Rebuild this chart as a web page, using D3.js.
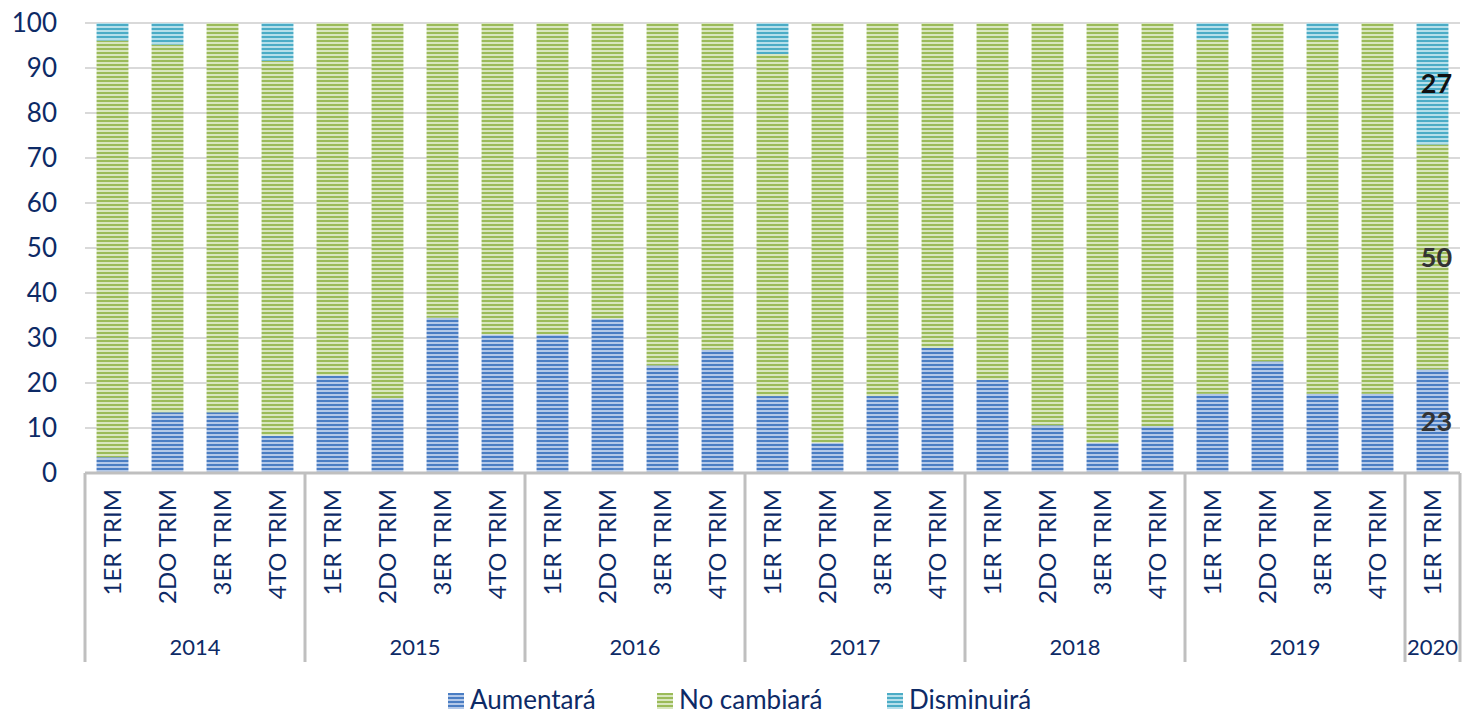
<!DOCTYPE html>
<html>
<head>
<meta charset="utf-8">
<script src="https://cdn.jsdelivr.net/npm/d3@7"></script>
<style>
  body { margin: 0; background: #fff; }
  text { font-family: Lato, "Open Sans", sans-serif; }
</style>
</head>
<body>
<svg id="chart" width="1466" height="716"></svg>
<script>
// data (percent of answers)
const years = ["2014", "2015", "2016", "2017", "2018", "2019", "2020"];
const quartersPerYear = [4, 4, 4, 4, 4, 4, 1];
const quarterNames = ["1ER TRIM", "2DO TRIM", "3ER TRIM", "4TO TRIM"];
const seriesNames = ["Aumentará", "No cambiará", "Disminuirá"];

const aumentara = [3.5, 13.5, 13.5, 8.3, 21.7, 16.6, 34.5, 30.8, 30.8, 34.3, 23.9, 27.4,
  17.1, 6.7, 17.1, 27.8, 20.7, 10.6, 6.7, 10.4, 17.6, 24.8, 17.6, 17.6, 23];
const noCambiara = [92.6, 81.7, 86.5, 83.3, 78.3, 83.4, 65.5, 69.2, 69.2, 65.7, 76.1, 72.6,
  76.0, 93.3, 82.9, 72.2, 79.3, 89.4, 93.3, 89.6, 78.7, 75.2, 78.7, 82.4, 50];
const disminuira = [3.9, 4.8, 0, 8.4, 0, 0, 0, 0, 0, 0, 0, 0,
  6.9, 0, 0, 0, 0, 0, 0, 0, 3.7, 0, 3.7, 0, 27];
const yTicks = [0, 10, 20, 30, 40, 50, 60, 70, 80, 90, 100];

const width = 1466;
const margin = { top: 23, left: 85, bottom: 243, right: 6 };
const iwidth = width - margin.left - margin.right;
const plotBottom = 473;

const svg = d3.select("#chart");

// striped fills like the Excel pattern
const stripes = [
  { id: "p0", dark: "#4a7dc3", light: "#b3c8e8" },
  { id: "p1", dark: "#9bbb59", light: "#d8e6bf" },
  { id: "p2", dark: "#4bacc6", light: "#b5dfea" }
];
const defs = svg.append("defs");
stripes.forEach(s => {
  const p = defs.append("pattern")
    .attr("id", s.id)
    .attr("patternUnits", "userSpaceOnUse")
    .attr("width", 8).attr("height", 4);
  p.append("rect").attr("width", 8).attr("height", 4).attr("fill", s.light);
  p.append("rect").attr("width", 8).attr("height", 2).attr("fill", s.dark);
});

// one row per bar
const rows = [];
let k = 0;
years.forEach((yr, yi) => {
  for (let q = 0; q < quartersPerYear[yi]; q++) {
    rows.push({
      key: yr + "-" + q, year: yr, quarter: quarterNames[q],
      "Aumentará": aumentara[k], "No cambiará": noCambiara[k], "Disminuirá": disminuira[k]
    });
    k++;
  }
});

const x = d3.scaleBand()
  .domain(rows.map(d => d.key))
  .range([margin.left, margin.left + iwidth])
  .paddingInner(0.42).paddingOuter(0.21);

const y = d3.scaleLinear().domain([0, 100]).range([plotBottom, margin.top]);

// gridlines
svg.append("g").selectAll("line").data(yTicks.filter(t => t > 0)).join("line")
  .attr("x1", margin.left).attr("x2", margin.left + iwidth)
  .attr("y1", d => y(d)).attr("y2", d => y(d))
  .attr("stroke", "#d9d9d9").attr("stroke-width", 2);

// y labels
svg.append("g").selectAll("text").data(yTicks).join("text")
  .attr("x", 57).attr("y", d => y(d)).attr("dy", "0.36em")
  .attr("text-anchor", "end")
  .attr("fill", "#0d2a66").attr("font-size", 26)
  .text(d => d);

// stacked bars
const stack = d3.stack().keys(seriesNames)(rows);
svg.append("g").selectAll("g").data(stack).join("g")
  .attr("fill", (d, i) => `url(#p${i})`)
  .selectAll("rect").data(d => d).join("rect")
  .attr("x", d => x(d.data.key))
  .attr("width", x.bandwidth())
  .attr("y", d => y(d[1]))
  .attr("height", d => y(d[0]) - y(d[1]));

// value labels on the last bar
const last = rows[rows.length - 1];
const lastStack = stack.map((s, i) => ({ v: s[s.length - 1], i }));
svg.append("g").selectAll("text").data(lastStack).join("text")
  .attr("x", x(last.key) + x.bandwidth() / 2 + 4)
  .attr("y", d => y((d.v[0] + d.v[1]) / 2))
  .attr("dy", "0.36em")
  .attr("text-anchor", "middle")
  .attr("font-size", 27).attr("font-weight", "bold")
  .attr("fill", d => d.i === 2 ? "#111" : "#333")
  .text(d => Math.round(d.v[1] - d.v[0]));

// category axis: baseline, separators, labels
const axisG = svg.append("g");
axisG.append("line")
  .attr("x1", margin.left).attr("x2", margin.left + iwidth)
  .attr("y1", plotBottom).attr("y2", plotBottom)
  .attr("stroke", "#bfbfbf").attr("stroke-width", 3);

const step = x.step();
let start = 0;
const bounds = [0];
quartersPerYear.forEach(n => { start += n; bounds.push(start); });
axisG.selectAll("line.sep").data(bounds).join("line")
  .attr("class", "sep")
  .attr("x1", d => margin.left + d * step).attr("x2", d => margin.left + d * step)
  .attr("y1", plotBottom).attr("y2", 662)
  .attr("stroke", "#bfbfbf").attr("stroke-width", 3);

axisG.selectAll("text.q").data(rows).join("text")
  .attr("class", "q")
  .attr("transform", d => `translate(${x(d.key) + x.bandwidth() / 2},489) rotate(-90)`)
  .attr("dy", "0.36em")
  .attr("text-anchor", "end")
  .attr("fill", "#0d2a66").attr("font-size", 24)
  .text(d => d.quarter);

axisG.selectAll("text.yr").data(years).join("text")
  .attr("class", "yr")
  .attr("x", (d, i) => margin.left + (bounds[i] + bounds[i + 1]) / 2 * step)
  .attr("y", 655)
  .attr("text-anchor", "middle")
  .attr("fill", "#0d2a66").attr("font-size", 22)
  .text(d => d);

// legend
const legendX = [448, 657, 887];
const leg = svg.append("g").selectAll("g").data(seriesNames).join("g")
  .attr("transform", (d, i) => `translate(${legendX[i]},693)`);
leg.append("rect").attr("width", 16).attr("height", 16)
  .attr("fill", (d, i) => `url(#p${i})`);
leg.append("text").attr("x", 22).attr("y", 16)
  .attr("fill", "#0d2a66").attr("font-size", 26)
  .text(d => d);
</script>
</body>
</html>
